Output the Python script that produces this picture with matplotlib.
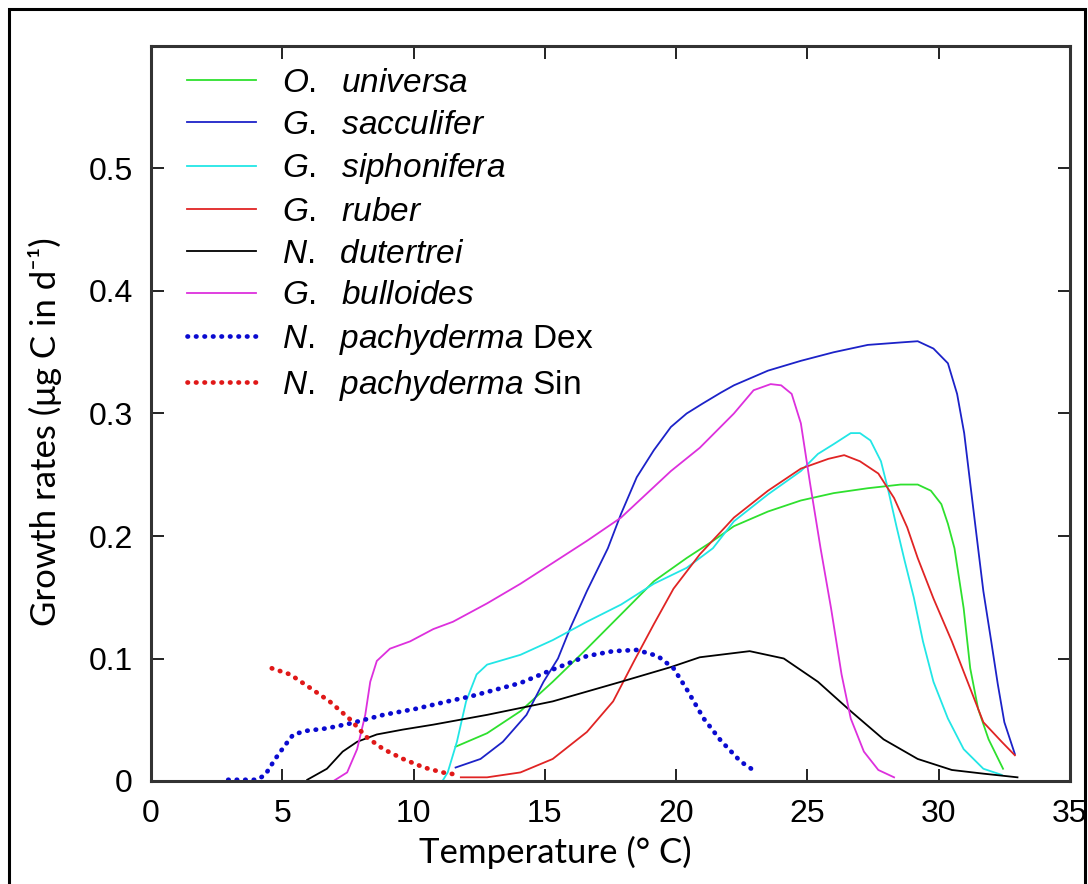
import numpy as np
import matplotlib
matplotlib.use('Agg')
import matplotlib.pyplot as plt
from matplotlib.patches import Rectangle

plt.rcParams['font.family'] = ['Liberation Sans', 'DejaVu Sans']
plt.rcParams['mathtext.fontset'] = 'custom'
plt.rcParams['mathtext.it'] = 'Liberation Sans:italic'
plt.rcParams['mathtext.rm'] = 'Liberation Sans'

# values (temperature in deg C, growth rate)
universa_t = [11.6, 12.8, 14.07, 15.3, 16.6, 17.9, 19.15, 20.4, 21.4, 22.2, 23.5, 24.75, 26.0, 27.3,
              28.55, 29.2, 29.7, 30.1, 30.35, 30.6, 30.95, 31.2, 31.5, 31.9, 32.45]
universa_g = [0.028, 0.039, 0.057, 0.081, 0.108, 0.136, 0.163, 0.182, 0.196, 0.208, 0.220, 0.229, 0.235, 0.239,
              0.242, 0.242, 0.237, 0.226, 0.210, 0.190, 0.141, 0.092, 0.059, 0.034, 0.010]

sacculifer_t = [11.6, 12.55, 13.4, 14.3, 14.95, 15.5, 15.97, 16.6, 17.4, 17.9, 18.5, 19.15, 19.8, 20.4, 21.0,
                21.7, 22.2, 23.5, 24.75, 26.0, 27.3, 28.55, 29.2, 29.8, 30.35, 30.7, 30.97, 31.2, 31.5, 31.7,
                32.0, 32.25, 32.5, 32.9]
sacculifer_g = [0.011, 0.018, 0.032, 0.054, 0.081, 0.100, 0.125, 0.155, 0.190, 0.218, 0.248, 0.270, 0.289, 0.300,
                0.308, 0.317, 0.323, 0.335, 0.343, 0.350, 0.356, 0.358, 0.359, 0.353, 0.341, 0.316, 0.284, 0.243,
                0.190, 0.155, 0.114, 0.079, 0.048, 0.022]

siphonifera_t = [9.95, 11.1, 11.3, 11.65, 12.0, 12.4, 12.8, 14.07, 15.3, 16.6, 17.9, 19.15, 20.4, 21.4, 22.2,
                 23.5, 24.75, 25.4, 26.0, 26.65, 27.0, 27.4, 27.8, 28.06, 28.4, 28.7, 29.05, 29.4, 29.8, 30.35,
                 30.95, 31.7, 32.4]
siphonifera_g = [0.0, 0.0, 0.007, 0.032, 0.065, 0.087, 0.095, 0.103, 0.115, 0.130, 0.144, 0.161, 0.174, 0.190,
                 0.212, 0.234, 0.253, 0.267, 0.275, 0.284, 0.284, 0.278, 0.261, 0.239, 0.207, 0.180, 0.150, 0.114,
                 0.081, 0.051, 0.026, 0.010, 0.005]

ruber_t = [11.8, 12.8, 14.07, 15.3, 16.6, 17.6, 18.4, 19.15, 19.9, 20.9, 21.9, 22.2, 23.5, 24.75, 25.8, 26.4,
           27.0, 27.7, 28.3, 28.8, 29.2, 29.8, 30.5, 31.1, 31.7, 32.4, 32.9]
ruber_g = [0.003, 0.003, 0.007, 0.018, 0.040, 0.065, 0.098, 0.128, 0.157, 0.185, 0.208, 0.215, 0.237, 0.255,
           0.263, 0.266, 0.261, 0.251, 0.231, 0.207, 0.182, 0.149, 0.114, 0.081, 0.048, 0.032, 0.021]

dutertrei_t = [5.95, 6.7, 7.3, 7.85, 8.6, 9.6, 10.75, 12.8, 15.3, 17.9, 19.8, 20.9, 22.8, 24.1, 25.4, 26.65,
               27.9, 29.2, 30.5, 31.7, 33.0]
dutertrei_g = [0.001, 0.010, 0.024, 0.032, 0.038, 0.042, 0.046, 0.054, 0.065, 0.081, 0.093, 0.101, 0.106, 0.100,
               0.081, 0.057, 0.034, 0.018, 0.009, 0.006, 0.003]

bulloides_t = [5.95, 6.95, 7.47, 7.85, 8.16, 8.35, 8.6, 9.1, 9.87, 10.75, 11.5, 12.8, 14.07, 15.3, 16.6, 17.9,
               19.8, 20.9, 22.2, 22.95, 23.6, 24.0, 24.4, 24.75, 25.1, 25.5, 25.9, 26.3, 26.65, 27.15, 27.7, 28.3]
bulloides_g = [0.0, 0.0, 0.007, 0.026, 0.054, 0.081, 0.098, 0.108, 0.114, 0.124, 0.130, 0.145, 0.161, 0.178,
               0.196, 0.215, 0.253, 0.272, 0.300, 0.319, 0.324, 0.323, 0.316, 0.292, 0.243, 0.190, 0.141, 0.087,
               0.051, 0.024, 0.009, 0.003]

dex_t = [2.94, 4.03, 4.35, 4.73, 5.1, 5.42, 5.93, 6.7, 7.59, 8.85, 10.1, 11.3, 12.16, 14.07, 15.3, 16.6, 17.6,
         18.5, 19.3, 19.9, 20.4, 21.05, 21.7, 22.45, 23.0]
dex_g = [0.001, 0.001, 0.005, 0.018, 0.029, 0.038, 0.041, 0.043, 0.047, 0.054, 0.059, 0.065, 0.069, 0.080, 0.091,
         0.102, 0.106, 0.107, 0.102, 0.092, 0.075, 0.051, 0.033, 0.016, 0.008]

sin_t = [4.6, 5.3, 6.06, 6.8, 7.6, 8.2, 8.85, 9.6, 10.4, 11.1, 11.7]
sin_g = [0.092, 0.087, 0.076, 0.065, 0.050, 0.036, 0.026, 0.018, 0.011, 0.007, 0.005]

fig = plt.figure(figsize=(10.88, 8.84), dpi=100)
ax = fig.add_axes([151 / 1088, 103 / 884, 919 / 1088, 735 / 884])

lw = 1.3
dots = (0, (0.1, 1.7))
ax.plot(universa_t, universa_g, color='#2ee02e', lw=lw, label=r'$\mathit{O.\ \ universa}$')
ax.plot(sacculifer_t, sacculifer_g, color='#1c22c8', lw=lw, label=r'$\mathit{G.\ \ sacculifer}$')
ax.plot(siphonifera_t, siphonifera_g, color='#22e6e6', lw=lw, label=r'$\mathit{G.\ \ siphonifera}$')
ax.plot(ruber_t, ruber_g, color='#e02424', lw=lw, label=r'$\mathit{G.\ \ ruber}$')
ax.plot(dutertrei_t, dutertrei_g, color='black', lw=lw, label=r'$\mathit{N.\ \ dutertrei}$')
ax.plot(bulloides_t, bulloides_g, color='#dd30dd', lw=lw, label=r'$\mathit{G.\ \ bulloides}$')
ax.plot(dex_t, dex_g, color='#0a0ad0', lw=3.4, ls=dots, dash_capstyle='round',
        label=r'$\mathit{N.\ \ pachyderma}$ Dex')
ax.plot(sin_t, sin_g, color='#e01818', lw=3.4, ls=dots, dash_capstyle='round',
        label=r'$\mathit{N.\ \ pachyderma}$ Sin')

ax.set_xlim(0, 35)
ax.set_ylim(0, 0.6)
ax.set_xticks(np.arange(0, 36, 5))
ax.set_yticks([0, 0.1, 0.2, 0.3, 0.4, 0.5])
ax.set_yticklabels(['0', '0.1', '0.2', '0.3', '0.4', '0.5'])
ax.tick_params(direction='in', top=True, right=True, length=9, width=1.4,
               labelsize=23, pad=13, color='#222222')
for s in ax.spines.values():
    s.set_linewidth(2.2)
    s.set_color('#333333')

ax.set_xlabel('Temperature (° C)', family=['Lato', 'DejaVu Sans'], fontsize=25)
ax.xaxis.set_label_coords(0.44, -0.074)
ax.set_ylabel('Growth rates (μg C in d⁻¹)', family=['Lato', 'DejaVu Sans'], fontsize=25, va='center')
ax.yaxis.set_label_coords(-0.115, 0.475)

ax.legend(loc='upper left', bbox_to_anchor=(0.039, 0.970), frameon=False, fontsize=24,
          handlelength=2.07, handletextpad=0.78, labelspacing=0.32, borderpad=0, borderaxespad=0)

fig.patches.append(Rectangle((9 / 1088, -0.01), 1076 / 1088, 1.0, transform=fig.transFigure,
                             fill=False, edgecolor='black', lw=2.2))

fig.savefig('out.png', dpi=100)
